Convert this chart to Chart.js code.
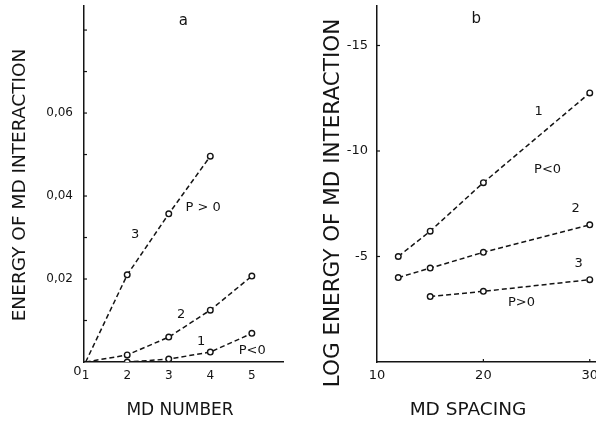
<!DOCTYPE html>
<html>
<head>
<meta charset="utf-8">
<script src="https://cdn.jsdelivr.net/npm/chart.js"></script>
<style>
html, body { margin: 0; padding: 0; background: #fff; overflow: hidden; }
#wrap { position: relative; width: 596px; height: 424px; overflow: hidden; }
#boxA { position: absolute; left: 0; top: 0; width: 296px; height: 424px; }
#boxB { position: absolute; left: 296px; top: 0; width: 330px; height: 424px; }
</style>
</head>
<body>
<div id="wrap">
  <div id="boxA"><canvas id="chartA" width="296" height="424"></canvas></div>
  <div id="boxB"><canvas id="chartB" width="330" height="424"></canvas></div>
</div>
<script>
// panel a: energy vs MD number
var mdNumber = [1, 2, 3, 4, 5];
var energy1 = [0, 0, 0.0007, 0.0024, 0.0069];
var energy2 = [0, 0.0017, 0.006, 0.0125, 0.0207];
var energy3 = [0, 0.021, 0.0357, 0.0496];
var xTicksA = [1, 2, 3, 4, 5];
var yTicksA = [0, 0.01, 0.02, 0.03, 0.04, 0.05, 0.06, 0.07, 0.08];
var yTickLabelsA = ['', '', '0,02', '', '0,04', '', '0,06', '', ''];

// panel b: log energy vs MD spacing
var mdSpacing12 = [12, 15, 20, 30];
var mdSpacing3 = [15, 20, 30];
var logEnergy1 = [-5.0, -6.2, -8.5, -12.75];
var logEnergy2 = [-4.0, -4.45, -5.2, -6.5];
var logEnergy3 = [-3.1, -3.35, -3.9];
var xTicksB = [10, 20, 30];
var yTicksB = [-15, -10, -5];

// curve labels, placed in data units
var notesA = [
    { text: 'a', x: 3.35, y: 0.0822, size: 15 },
    { text: '3', x: 2.19, y: 0.0306, size: 13 },
    { text: '2', x: 3.30, y: 0.0113, size: 13 },
    { text: '1', x: 3.78, y: 0.0048, size: 13 },
    { text: 'P > 0', x: 3.83, y: 0.0373, size: 13 },
    { text: 'P<0', x: 5.01, y: 0.0027, size: 13 },
    { text: '0', x: 0.80, y: -0.0022, size: 13 }
];
var notesB = [
    { text: 'b', x: 19.34, y: -16.26, size: 15 },
    { text: '1', x: 25.19, y: -11.85, size: 13 },
    { text: 'P<0', x: 26.04, y: -9.10, size: 13 },
    { text: '2', x: 28.68, y: -7.25, size: 13 },
    { text: '3', x: 28.96, y: -4.64, size: 13 },
    { text: 'P>0', x: 23.58, y: -2.80, size: 13 }
];

var ink = '#141414';
var fontName = '"DejaVu Sans", sans-serif';

function pairs(xs, ys) {
    return ys.map(function (y, i) { return { x: xs[i], y: y }; });
}

function series(points, skipFirst) {
    return {
        data: points,
        showLine: true,
        borderColor: ink,
        borderWidth: 1.5,
        borderDash: [5, 3],
        pointBackgroundColor: '#fff',
        pointBorderColor: ink,
        pointBorderWidth: 1.4,
        pointRadius: function (c) { return skipFirst && c.dataIndex === 0 ? 0 : 2.8; }
    };
}

function textPlugin(notes, marks, titles) {
    return {
        id: 'notes',
        afterDraw: function (chart) {
            var ctx = chart.ctx, xs = chart.scales.x, ys = chart.scales.y, area = chart.chartArea;
            ctx.save();
            ctx.strokeStyle = ink;
            ctx.fillStyle = ink;
            ctx.lineWidth = 1.2;
            // small inward tick marks
            marks.y.forEach(function (v) {
                var py = ys.getPixelForValue(v);
                ctx.beginPath(); ctx.moveTo(area.left, py); ctx.lineTo(area.left + 3, py); ctx.stroke();
            });
            marks.x.forEach(function (v) {
                var px = xs.getPixelForValue(v);
                ctx.beginPath(); ctx.moveTo(px, area.bottom); ctx.lineTo(px, area.bottom - 3); ctx.stroke();
            });
            ctx.textAlign = 'center';
            ctx.textBaseline = 'middle';
            notes.forEach(function (n) {
                ctx.font = n.size + 'px ' + fontName;
                ctx.fillText(n.text, xs.getPixelForValue(n.x), ys.getPixelForValue(n.y));
            });
            // axis titles
            ctx.font = titles.xSize + 'px ' + fontName;
            ctx.fillText(titles.x, titles.xPos[0], titles.xPos[1]);
            ctx.translate(titles.yPos[0], titles.yPos[1]);
            ctx.rotate(-Math.PI / 2);
            ctx.font = titles.ySize + 'px ' + fontName;
            ctx.fillText(titles.y, 0, 0);
            ctx.restore();
        }
    };
}

function noPadding(s) {
    s.paddingTop = 0;
    s.paddingBottom = 0;
    s.paddingLeft = 0;
    s.paddingRight = 0;
}

function axisStyle() {
    return {
        type: 'linear',
        grid: { display: false, drawTicks: false, tickLength: 0 },
        border: { display: true, color: ink, width: 1.5 },
        ticks: { color: ink, font: { family: 'DejaVu Sans', size: 12 } }
    };
}

Chart.defaults.animation = false;

// ----- panel a -----
var xA = axisStyle();
xA.min = 0.96;
xA.max = 5.75;
xA.afterFit = function (s) { s.height = 62; noPadding(s); };
xA.afterBuildTicks = function (s) { s.ticks = xTicksA.map(function (v) { return { value: v }; }); };
xA.ticks.padding = 7;

var yA = axisStyle();
yA.min = 0;
yA.max = 0.0858;
yA.afterFit = function (s) { s.width = 84; noPadding(s); };
yA.afterBuildTicks = function (s) { s.ticks = yTicksA.map(function (v) { return { value: v }; }); };
yA.ticks.padding = 11;
yA.ticks.callback = function (v, i) { return yTickLabelsA[i]; };

new Chart(document.getElementById('chartA'), {
    type: 'scatter',
    data: {
        datasets: [
            series(pairs(mdNumber, energy1), true),
            series(pairs(mdNumber, energy2), true),
            series(pairs(mdNumber, energy3), true)
        ]
    },
    options: {
        responsive: false,
        layout: { padding: { top: 6, right: 13, left: 0, bottom: 0 } },
        plugins: { legend: { display: false }, tooltip: { enabled: false } },
        scales: { x: xA, y: yA }
    },
    plugins: [textPlugin(notesA, { x: [], y: yTicksA.slice(1) },
        { x: 'MD NUMBER', xSize: 17, xPos: [180, 411], y: 'ENERGY OF MD INTERACTION', ySize: 18.5, yPos: [20, 185] })]
});

// ----- panel b -----
var xB = axisStyle();
xB.min = 10;
xB.max = 32.9;
xB.afterFit = function (s) { s.height = 62; noPadding(s); };
xB.afterBuildTicks = function (s) { s.ticks = xTicksB.map(function (v) { return { value: v }; }); };
xB.ticks.padding = 6;
xB.ticks.font.size = 13;

var yB = axisStyle();
yB.min = -16.9;
yB.max = 0;
yB.reverse = true;
yB.afterFit = function (s) { s.width = 81; noPadding(s); };
yB.afterBuildTicks = function (s) { s.ticks = yTicksB.map(function (v) { return { value: v }; }); };
yB.ticks.padding = 9;
yB.ticks.font.size = 13;

new Chart(document.getElementById('chartB'), {
    type: 'scatter',
    data: {
        datasets: [
            series(pairs(mdSpacing12, logEnergy1), false),
            series(pairs(mdSpacing12, logEnergy2), false),
            series(pairs(mdSpacing3, logEnergy3), false)
        ]
    },
    options: {
        responsive: false,
        layout: { padding: { top: 5, right: 0, left: 0, bottom: 0 } },
        plugins: { legend: { display: false }, tooltip: { enabled: false } },
        scales: { x: xB, y: yB }
    },
    plugins: [textPlugin(notesB, { x: [20, 30], y: yTicksB },
        { x: 'MD SPACING', xSize: 18.5, xPos: [172, 410], y: 'LOG ENERGY OF MD INTERACTION', ySize: 21.5, yPos: [37, 203] })]
});
</script>
</body>
</html>
